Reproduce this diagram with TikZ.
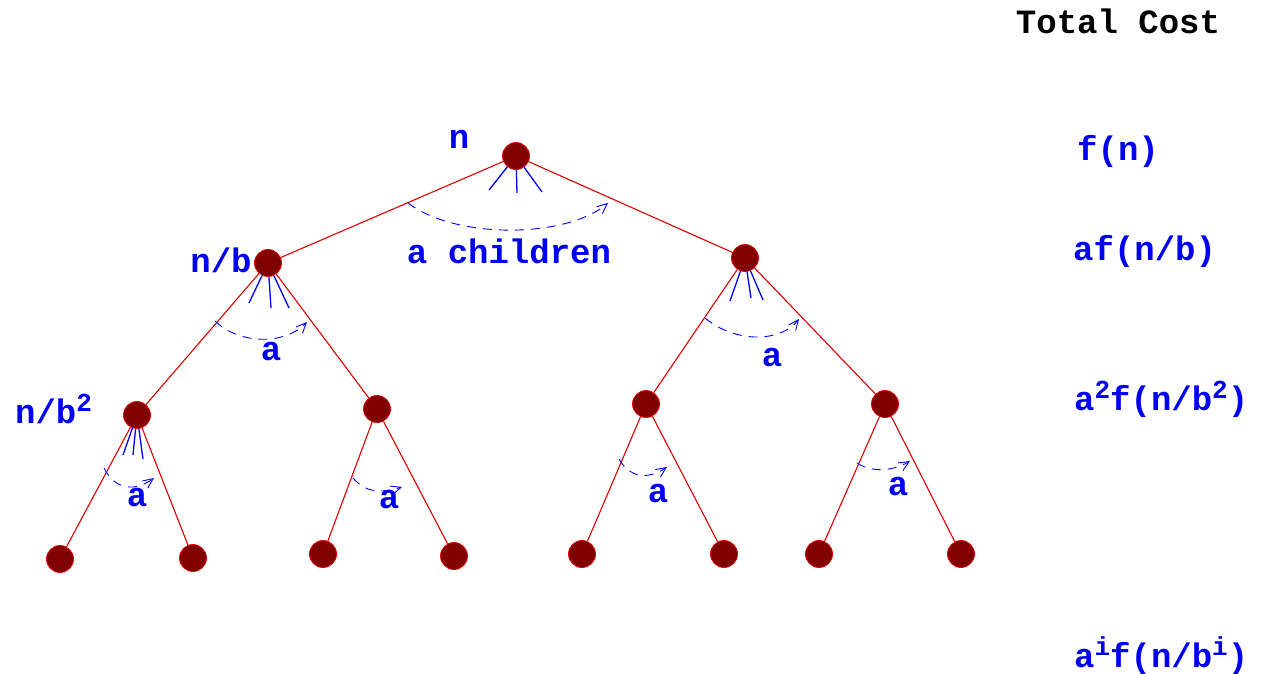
\documentclass[tikz,border=0pt]{standalone}
\usepackage{fontspec}
\setmonofont{Liberation Mono}
\usetikzlibrary{arrows.meta}
\definecolor{edgered}{RGB}{225,0,0}
\definecolor{nodefill}{RGB}{128,0,0}
\definecolor{txtblue}{RGB}{0,0,240}
\newcommand{\bigtt}{\fontsize{34}{40}\selectfont\ttfamily\bfseries}
\newcommand{\supx}[1]{\raisebox{12pt}{\fontsize{26}{26}\selectfont #1}}
\begin{document}
\begin{tikzpicture}[x=1pt,y=-1pt,
 vert/.style={circle,fill=nodefill,draw=edgered,line width=0.8pt,minimum size=27pt,inner sep=0pt},
 edge/.style={draw=edgered,line width=1.1pt},
 fan/.style={draw=blue,line width=1.3pt},
 arcarrow/.style={draw=blue,line width=0.9pt,dash pattern=on 9pt off 7pt,-{Straight Barb[length=10pt,width=9pt]}},
 lbl/.style={text=txtblue,font=\bigtt,anchor=base,inner sep=0pt},
 lblw/.style={lbl,anchor=base west},
 ]
\useasboundingbox (0,0) rectangle (1262,673);
% nodes
\node[vert] (r) at (516,156) {};
\node[vert] (l1) at (268,263) {};
\node[vert] (r1) at (745,258) {};
\node[vert] (l2a) at (137,415) {};
\node[vert] (l2b) at (377,409) {};
\node[vert] (l2c) at (646,404) {};
\node[vert] (l2d) at (885,404) {};
\node[vert] (b1) at (60,559) {};
\node[vert] (b2) at (193,558) {};
\node[vert] (b3) at (323,554) {};
\node[vert] (b4) at (454,556) {};
\node[vert] (b5) at (582,554) {};
\node[vert] (b6) at (724,554) {};
\node[vert] (b7) at (819,554) {};
\node[vert] (b8) at (961,554) {};
% edges
\draw[edge] (r) -- (l1);
\draw[edge] (r) -- (r1);
\draw[edge] (l1) -- (l2a);
\draw[edge] (l1) -- (l2b);
\draw[edge] (r1) -- (l2c);
\draw[edge] (r1) -- (l2d);
\draw[edge] (l2a) -- (b1);
\draw[edge] (l2a) -- (b2);
\draw[edge] (l2b) -- (b3);
\draw[edge] (l2b) -- (b4);
\draw[edge] (l2c) -- (b5);
\draw[edge] (l2c) -- (b6);
\draw[edge] (l2d) -- (b7);
\draw[edge] (l2d) -- (b8);
% fans
\coordinate (rf1) at (489,190); \coordinate (rf2) at (517,193); \coordinate (rf3) at (542,192);
\coordinate (lf1) at (249,303); \coordinate (lf2) at (271,308); \coordinate (lf3) at (289,308);
\coordinate (qf1) at (730,301); \coordinate (qf2) at (751,298); \coordinate (qf3) at (763,300);
\coordinate (af1) at (123,455); \coordinate (af2) at (133,455); \coordinate (af3) at (143,459);
\foreach \n/\c in {r/rf, l1/lf, r1/qf, l2a/af}{
  \foreach \i in {1,2,3}{\draw[fan] (\n) -- (\c\i);}
}
% arcs
\coordinate (ra1) at (408,203); \coordinate (ra2) at (608,203);
\draw[arcarrow] (ra1) .. controls (455,239) and (565,239) .. (ra2);
\coordinate (la1) at (215,321); \coordinate (la2) at (307,322);
\draw[arcarrow] (la1) .. controls (240,345) and (285,345) .. (la2);
\coordinate (qa1) at (705,318); \coordinate (qa2) at (799,319);
\draw[arcarrow] (qa1) .. controls (735,343) and (780,343) .. (qa2);
\coordinate (aa1) at (104,468); \coordinate (aa2) at (154,478);
\draw[arcarrow] (aa1) .. controls (115,490) and (135,492) .. (aa2);
\coordinate (ba1) at (353,478); \coordinate (ba2) at (402,487);
\draw[arcarrow] (ba1) .. controls (365,492) and (380,494) .. (ba2);
\coordinate (ca1) at (619,459); \coordinate (ca2) at (667,467);
\draw[arcarrow] (ca1) .. controls (630,478) and (648,480) .. (ca2);
\coordinate (da1) at (857,463); \coordinate (da2) at (910,461);
\draw[arcarrow] (da1) .. controls (870,472) and (892,472) .. (da2);
% labels
\node[lbl] (tn) at (459,148) {n};
\node[lbl] (tnb) at (221,272) {n/b};
\node[lblw] (tnb2) at (15,423) {n/b\supx{2}};
\node[lbl] (tach) at (509,263) {a children};
\node[lbl] (ta1) at (271,360) {a};
\node[lbl] (ta2) at (772,366) {a};
\node[lbl] (ta3) at (137,506) {a};
\node[lbl] (ta4) at (389,508) {a};
\node[lbl] (ta5) at (658,502) {a};
\node[lbl] (ta6) at (898,495) {a};
% total cost column
\node[lbl,text=black] (ttc) at (1118,33) {Total Cost};
\node[lbl] (c0) at (1118,160) {f(n)};
\node[lblw] (c1) at (1073,260) {af(n/b)};
\node[lblw] (c2) at (1074,410) {a\supx{2}f(n/b\supx{2})};
\node[lblw] (c3) at (1074,667) {a\supx{i}f(n/b\supx{i})};
\end{tikzpicture}
\end{document}
